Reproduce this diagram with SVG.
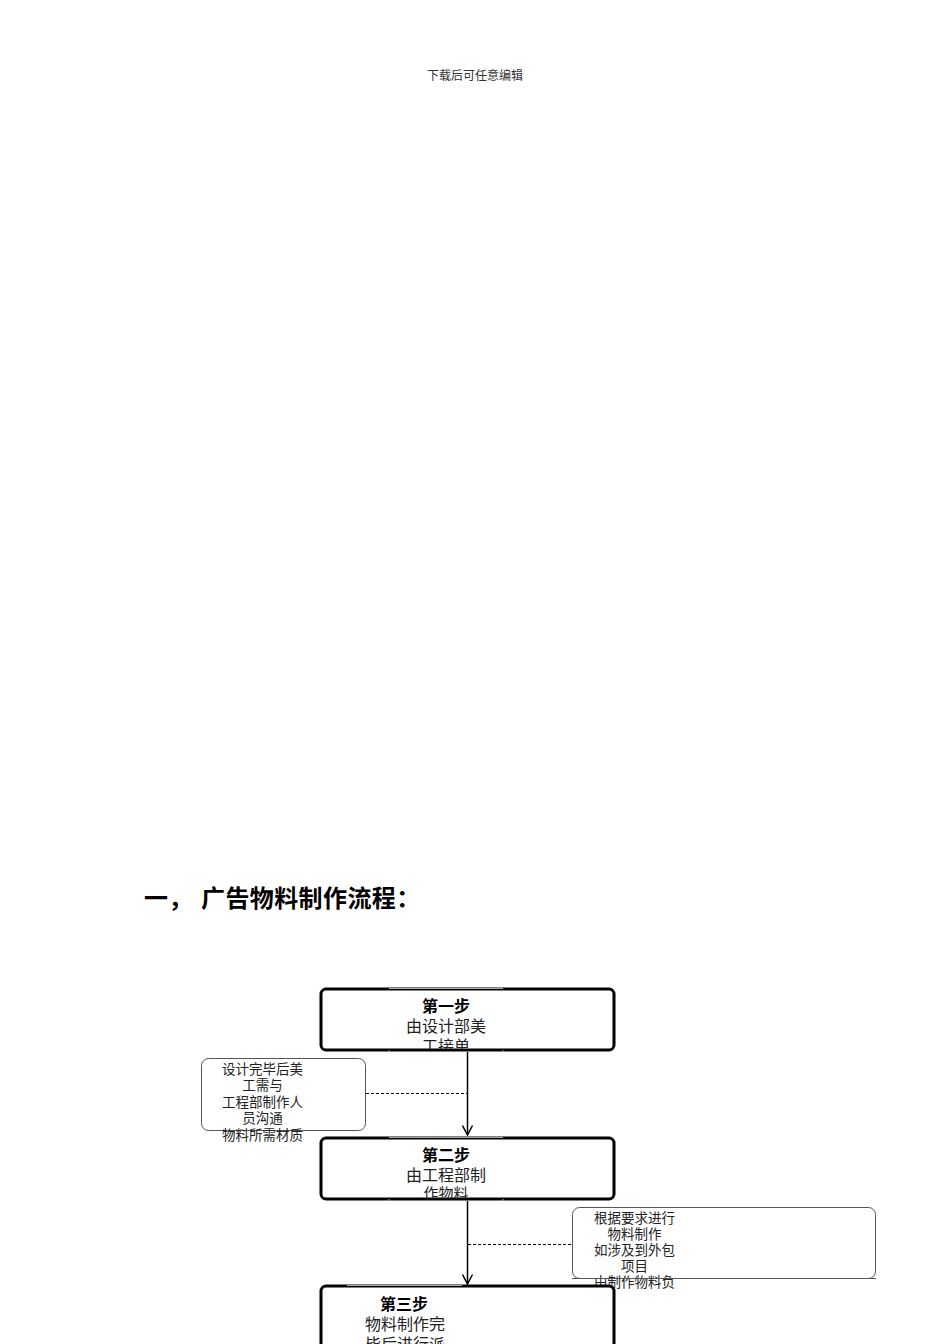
<svg xmlns="http://www.w3.org/2000/svg" width="950" height="1344" viewBox="0 0 950 1344">
<style>
text{font-family:"Noto Sans CJK SC","Liberation Sans",sans-serif;fill:#111;text-anchor:middle}
.hdr{font-size:12px;fill:#333}
.ttl{font-size:24px;font-weight:bold;text-anchor:start;fill:#000;letter-spacing:0.4px}
.step{fill:#fff;stroke:#000;stroke-width:3}
.note{fill:#fff;stroke:#555;stroke-width:1}
.h{font-size:16px;font-weight:bold;fill:#000}
.b{font-size:16px;fill:#222}
.n{font-size:13.5px;fill:#222}
.frame{stroke:#aaa;stroke-width:1.2}
.conn line{stroke:#000}
.dash{stroke:#333;stroke-width:1;stroke-dasharray:3,2}
</style>
<defs>
<marker id="arr" viewBox="0 0 12 12" refX="11" refY="6" markerWidth="12" markerHeight="12" markerUnits="userSpaceOnUse" orient="auto">
<path d="M1.5,1 L11,6 L1.5,11" fill="none" stroke="#000" stroke-width="1.5"/>
</marker>
<clipPath id="c1"><rect x="321" y="990" width="292" height="59"/></clipPath>
<clipPath id="c2"><rect x="321" y="1138" width="292" height="61"/></clipPath>
</defs>
<rect width="950" height="1344" fill="#fff"/>
<text class="hdr" x="475" y="80">下载后可任意编辑</text>
<g id="title">
<text class="ttl" x="144" y="907">一，</text>
<text class="ttl" x="201" y="907">广告物料制作流程：</text>
</g>
<g class="conn" id="connectors">
<line x1="467.5" y1="1052" x2="467.5" y2="1135" stroke-width="1.5" marker-end="url(#arr)"/>
<line x1="467.5" y1="1201" x2="467.5" y2="1284" stroke-width="1.5" marker-end="url(#arr)"/>
<line class="dash" x1="366" y1="1093.5" x2="467" y2="1093.5"/>
<line class="dash" x1="468" y1="1244.5" x2="572" y2="1244.5"/>
</g>
<g id="step1">
<rect class="step" x="321" y="989" width="293" height="61" rx="5"/>
<line class="frame" x1="389" y1="988.5" x2="503" y2="988.5"/>
<line x1="389" y1="1050" x2="389" y2="1052" stroke="#aaa"/>
<line x1="503" y1="1050" x2="503" y2="1052" stroke="#aaa"/>
<g clip-path="url(#c1)">
<text class="h" x="446" y="1012">第一步</text>
<text class="b" x="446" y="1032">由设计部美</text>
<text class="b" x="446" y="1052">工接单</text>
</g>
</g>
<g id="note1">
<rect class="note" x="201.5" y="1058.5" width="164" height="72" rx="7"/>
<text class="n" x="262.5" y="1073.5">设计完毕后美</text>
<text class="n" x="262.5" y="1090">工需与</text>
<text class="n" x="262.5" y="1106.5">工程部制作人</text>
<text class="n" x="262.5" y="1123">员沟通</text>
<text class="n" x="262.5" y="1139.5">物料所需材质</text>
</g>
<g id="step2">
<rect class="step" x="321" y="1138" width="293" height="61" rx="5"/>
<line class="frame" x1="389" y1="1137.5" x2="503" y2="1137.5"/>
<line x1="389" y1="1199" x2="389" y2="1201" stroke="#aaa"/>
<line x1="503" y1="1199" x2="503" y2="1201" stroke="#aaa"/>
<g clip-path="url(#c2)">
<text class="h" x="446" y="1161">第二步</text>
<text class="b" x="446" y="1181">由工程部制</text>
<text class="b" x="446" y="1199" style="font-size:15px">作物料</text>
</g>
</g>
<g id="note2">
<rect class="note" x="572.5" y="1207.5" width="303" height="71" rx="7"/>
<text class="n" x="634.5" y="1223">根据要求进行</text>
<text class="n" x="634.5" y="1239">物料制作</text>
<text class="n" x="634.5" y="1255">如涉及到外包</text>
<text class="n" x="634.5" y="1271">项目</text>
<text class="n" x="634.5" y="1287">由制作物料负</text>
<line x1="572" y1="1278.5" x2="876" y2="1278.5" stroke="#555" stroke-width="1"/>
</g>
<g id="step3">
<rect class="step" x="321" y="1286" width="293" height="80" rx="5"/>
<line class="frame" x1="347" y1="1285.5" x2="462" y2="1285.5"/>
<text class="h" x="404" y="1310">第三步</text>
<text class="b" x="405" y="1330">物料制作完</text>
<text class="b" x="405" y="1350">毕后进行派</text>
</g>
</svg>
